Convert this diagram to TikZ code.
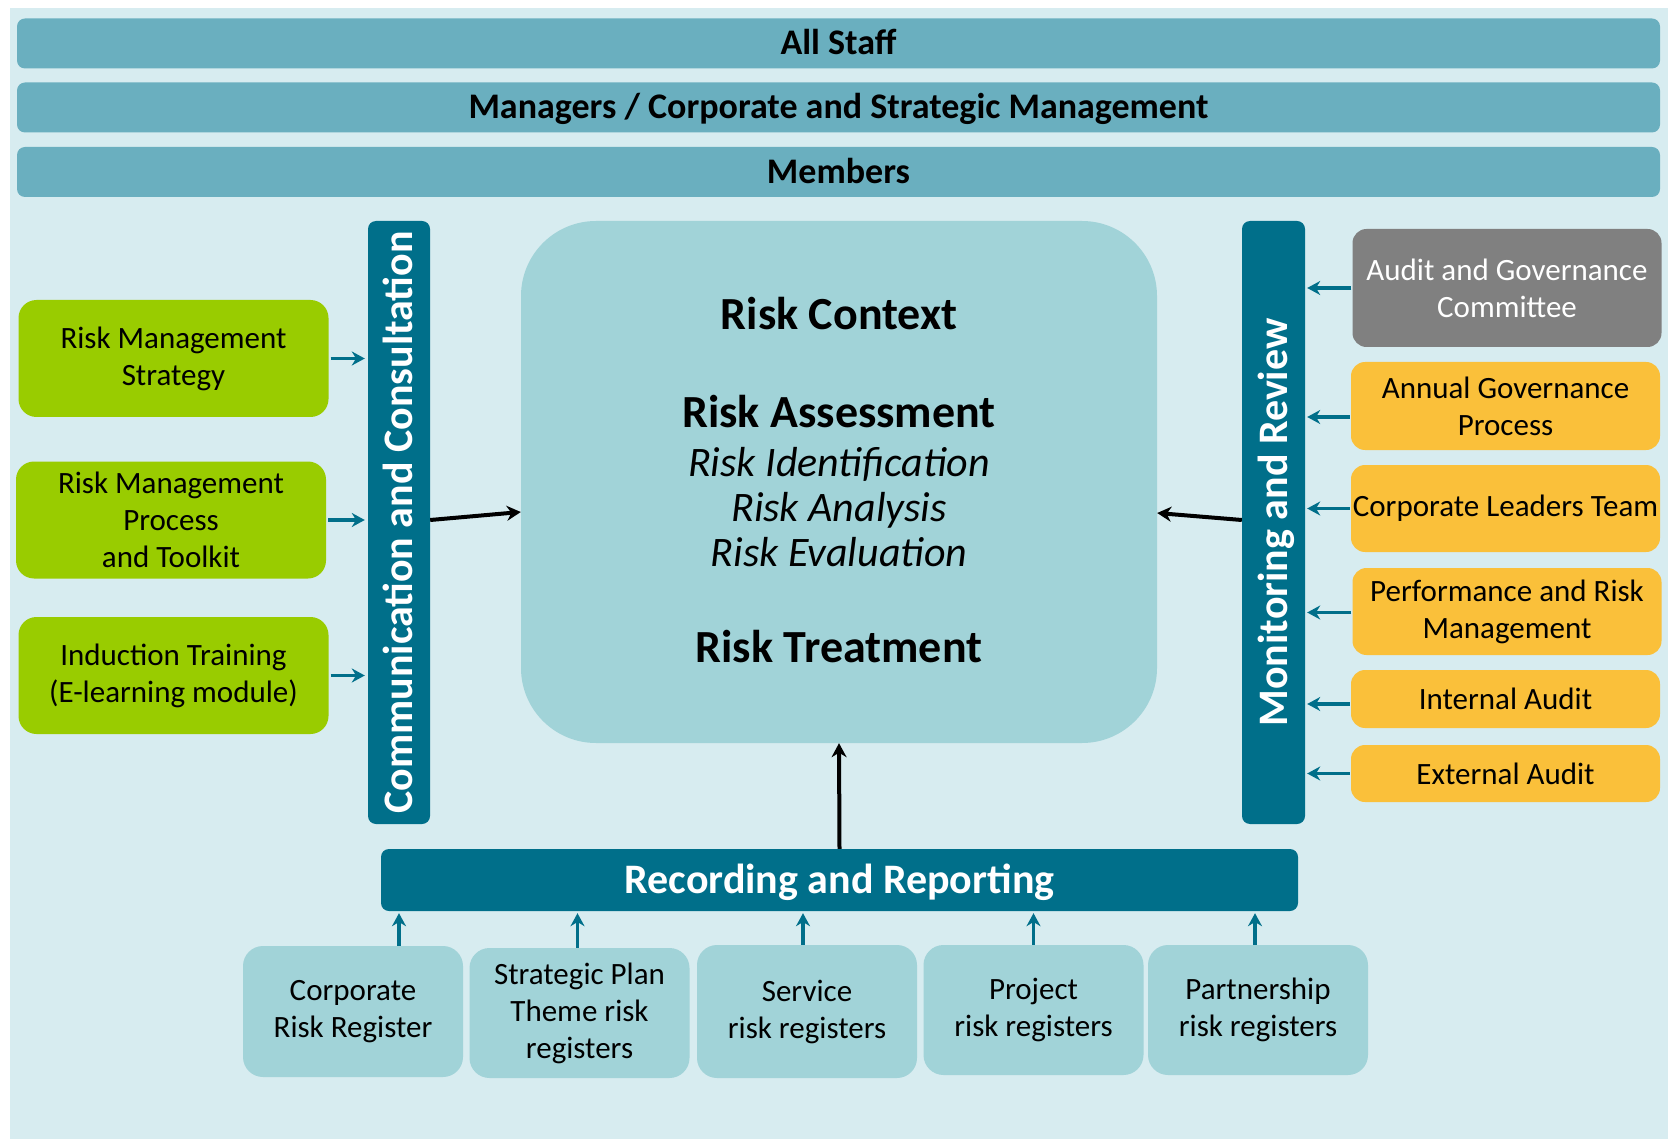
\documentclass[tikz,border=0pt]{standalone}
\usepackage{fontspec}
\setmainfont{Carlito}
\usetikzlibrary{arrows.meta,positioning,calc}
\definecolor{paper}{RGB}{215,236,240}
\definecolor{tierblue}{RGB}{106,175,191}
\definecolor{deep}{RGB}{0,111,138}
\definecolor{pale}{RGB}{161,211,216}
\definecolor{lime}{RGB}{153,204,0}
\definecolor{amber}{RGB}{250,192,58}
\definecolor{slate}{RGB}{128,128,128}

\begin{document}
\begin{tikzpicture}[x=1pt,y=-1pt,
    tier/.style={fill=tierblue,rounded corners=8pt,minimum width=1643pt,minimum height=50pt,inner sep=0pt,text height=23pt,text depth=0pt,font=\fontsize{36}{43}\selectfont\bfseries},
    pillar/.style={fill=deep,rounded corners=8pt,inner sep=0pt,text=white,text height=27pt,text depth=0pt,font=\fontsize{42}{50}\selectfont\bfseries},
    feed/.style={fill=lime,rounded corners=18pt,minimum width=310pt,minimum height=117pt,inner sep=0pt,align=center,font=\fontsize{31}{37}\selectfont},
    watch/.style={fill=amber,rounded corners=14pt,minimum width=309pt,inner sep=0pt,align=center,font=\fontsize{31}{37}\selectfont},
    register/.style={fill=pale,rounded corners=20pt,minimum width=220pt,minimum height=131pt,inner sep=0pt,align=center,font=\fontsize{31}{37}\selectfont},
    phase/.style={anchor=base,font=\fontsize{46}{55}\selectfont\bfseries},
    substage/.style={anchor=base,font=\fontsize{42}{45}\selectfont\itshape},
    tick/.style={deep,line width=3.5pt,-{Stealth[length=13pt,width=14pt]}},
    push/.style={line width=4pt,-{Stealth[length=14pt,width=15pt]}}]
  \useasboundingbox (0,0) rectangle (1668,1139);
  \fill[white] (0,0) rectangle (1668,1139);
  \fill[paper] (10,8) rectangle (1668,1139);

  % who takes part
  \node[tier] (staff) at (838.5,43.5) {All Staff};
  \node[tier] (managers) at (838.5,107.5) {Managers / Corporate and Strategic Management};
  \node[tier] (members) at (838.5,172) {Members};

  % side columns (rotated: north points left, south points right)
  \node[pillar,rotate=90,minimum width=603pt,minimum height=62pt] (comm) at (399,522.5) {Communication and Consultation};
  \node[pillar,rotate=90,minimum width=603pt,minimum height=63pt] (mon) at (1273.5,522.5) {Monitoring and Review};
  \node[pillar,minimum width=917pt,minimum height=62pt] (record) at (839.5,880) {Recording and Reporting};

  % core process
  \node[fill=pale,rounded corners=75pt,minimum width=636pt,minimum height=522pt] (core) at (839,482) {};
  \node[phase] (context) at (839,330) {Risk Context};
  \node[phase] (assess) at (839,428) {Risk Assessment};
  \node[substage] (ident) at (839,476) {Risk Identification};
  \node[substage] (analyse) at (839,521) {Risk Analysis};
  \node[substage] (evaluate) at (839,566) {Risk Evaluation};
  \node[phase] (treat) at (839,662) {Risk Treatment};

  % guidance on the left
  \node[feed] (strategy) at (173.5,358.5) {Risk Management\\Strategy};
  \node[feed] (process) at (171,520) {Risk Management\\Process\\and Toolkit};
  \node[feed] (induction) at (173.5,675.5) {Induction Training\\(E-learning module)};
  \foreach \n in {strategy,process,induction}
    \draw[tick,shorten <=2pt,shorten >=3pt] (\n.east) -- (\n.east -| comm.north);

  % oversight on the right
  \node[watch,fill=slate,text=white,minimum height=118pt] (audit) at (1507,288) {Audit and Governance\\Committee};
  \node[watch,minimum height=88pt] (annual) at (1505.5,406) {Annual Governance\\Process};
  \node[watch,minimum height=87pt] (clt) at (1505.5,508.5) {Corporate Leaders Team};
  \node[watch,minimum height=87pt] (perf) at (1507,611.5) {Performance and Risk\\Management};
  \node[watch,minimum height=58pt] (internal) at (1505.5,699) {Internal Audit};
  \node[watch,minimum height=57pt] (external) at (1505.5,773.5) {External Audit};
  \foreach \n/\dy in {audit/0,annual/-11,clt/0,perf/-1,internal/-5,external/0} {
    \coordinate (\n in) at ([yshift=\dy pt]\n.west);
    \draw[tick,shorten <=1pt,shorten >=2pt] (\n in) -- (\n in -| mon.south);
  }

  % registers feeding the reporting bar
  \node[register] (corp) at (353,1011.5) {Corporate\\Risk Register};
  \node[register,minimum height=130pt] (theme) at (579.5,1013) {Strategic Plan\\Theme risk\\registers};
  \node[register,minimum height=133pt] (service) at (807,1011.5) {Service\\risk registers};
  \node[register,minimum height=130pt] (project) at (1033.5,1010) {Project\\risk registers};
  \node[register,minimum height=130pt] (partner) at (1258,1010) {Partnership\\risk registers};
  \foreach \n/\dx in {corp/46,theme/-2,service/-4,project/0,partner/-3} {
    \coordinate (\n out) at ([xshift=\dx pt]\n.north);
    \draw[tick,shorten >=2pt] (\n out) -- (\n out |- record.south);
  }

  % flows into the core
  \draw[push] ([yshift=2.5pt]comm.south) -- ([yshift=-30pt]core.west);
  \draw[push] ([yshift=2.5pt]mon.north) -- ([yshift=-31pt]core.east);
  \draw[push] (record.north) -- (core.south);
\end{tikzpicture}
\end{document}
